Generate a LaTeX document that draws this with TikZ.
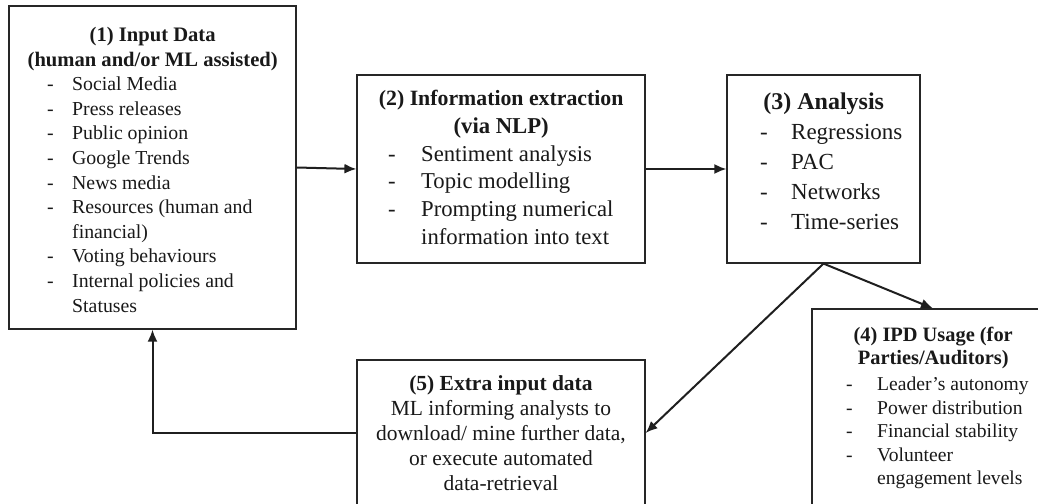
\documentclass[tikz,border=0pt]{standalone}
\usepackage{fontspec}
\setmainfont{Liberation Serif}
\usetikzlibrary{arrows.meta}
\newcommand\hd[2]{\multicolumn{2}{@{}l@{}}{\makebox[#1][c]{\bfseries #2}}}
\tikzset{
  box/.style={draw=black!85, line width=1.2pt, rectangle, inner sep=0pt},
  arr/.style={draw=black!88, line width=2pt, -{Latex[length=12pt,width=10pt]}},
  txt/.style={inner sep=0pt, text=black!90},
}
\begin{document}
\begin{tikzpicture}[x=1pt, y=-1pt]
\useasboundingbox (0,0) rectangle (1038,503);
\clip (0,0) rectangle (1038,503);
\fill[white] (0,0) rectangle (1038,503);

% boxes
\node[box, minimum width=287pt, minimum height=323pt] (b1) at (152.5,167.5) {};
\node[box, minimum width=288pt, minimum height=188pt] (b2) at (501,169) {};
\node[box, minimum width=193pt, minimum height=188pt] (b3) at (823.5,169) {};
\node[box, minimum width=242pt, minimum height=203pt] (b4) at (933,410.5) {};
\node[box, minimum width=288pt, minimum height=146pt] (b5) at (501,433) {};

% texts
\node[txt, anchor=base west, font=\fontsize{19.8}{24.6}\selectfont] (t1) at (47,41.5) {%
\begin{tabular}[t]{@{}p{25pt}@{}l@{}}
\hd{211pt}{\fontsize{20.6}{24.6}\selectfont (1) Input Data}\\
\hd{211pt}{\fontsize{20.6}{24.6}\selectfont (human and/or ML assisted)}\\
- & Social Media\\
- & Press releases\\
- & Public opinion\\
- & Google Trends\\
- & News media\\
- & Resources (human and\\
  & financial)\\
- & Voting behaviours\\
- & Internal policies and\\
  & Statuses
\end{tabular}};

\node[txt, anchor=base west, font=\fontsize{22.7}{27.7}\selectfont] (t2) at (388,105.7) {%
\begin{tabular}[t]{@{}p{33pt}@{}l@{}}
\hd{226pt}{\fontsize{21.8}{27.7}\selectfont (2) Information extraction}\\
\hd{226pt}{(via NLP)}\\
- & Sentiment analysis\\
- & Topic modelling\\
- & Prompting numerical\\
  & information into text
\end{tabular}};

\node[txt, anchor=base west, font=\fontsize{23}{30}\selectfont] (t3) at (760,109) {%
\begin{tabular}[t]{@{}p{31pt}@{}l@{}}
\hd{127pt}{\fontsize{24}{30}\selectfont (3) Analysis}\\
- & Regressions\\
- & PAC\\
- & Networks\\
- & Time-series
\end{tabular}};

\node[txt, anchor=base west, font=\fontsize{19.6}{23.5}\selectfont] (t4) at (846,341.2) {%
\begin{tabular}[t]{@{}p{31pt}@{}l@{}}
\hd{174pt}{\fontsize{20.4}{23.5}\selectfont (4) IPD Usage (for}\\
\hd{174pt}{\fontsize{20.4}{23.5}\selectfont Parties/Auditors)}\\[2.5pt]
- & Leader’s autonomy\\
- & Power distribution\\
- & Financial stability\\
- & Volunteer\\
  & engagement levels
\end{tabular}};

\node[txt, anchor=base, font=\fontsize{21.5}{25}\selectfont] (t5) at (501,390.7) {%
\begin{tabular}[t]{@{}c@{}}
\textbf{(5) Extra input data}\\
ML informing analysts to\\
download/ mine further data,\\
or execute automated\\
data-retrieval
\end{tabular}};

% connectors
\draw[arr] (b1.east) -- (b2.west);
\draw[arr] (b2.east) -- (b3.west);
\draw[arr] (b3.south) -- (b4.north);
\draw[arr] (b3.south) -- (b5.east);
\draw[arr] (b5.west) -| (b1.south);
\end{tikzpicture}
\end{document}
